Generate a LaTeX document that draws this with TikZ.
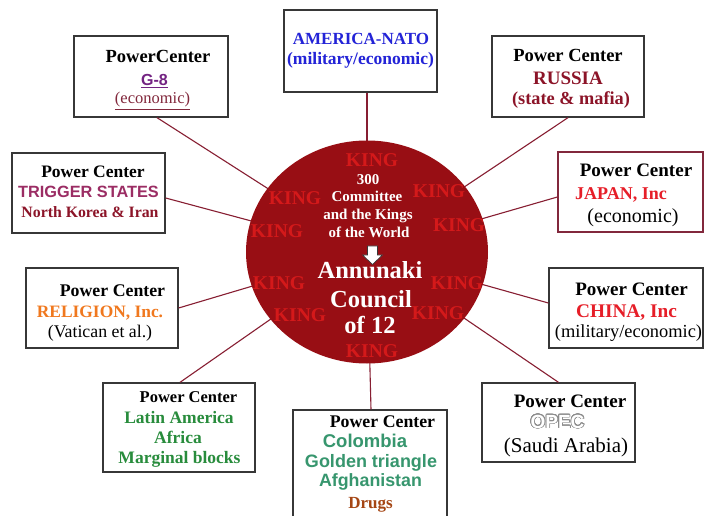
\documentclass[tikz,border=0pt]{standalone}
\usepackage{fontspec}
\setmainfont{Liberation Serif}
\newfontfamily\arialf{Liberation Sans}
\usepackage{contour}
\contourlength{0.7pt}
\contournumber{24}
\usetikzlibrary{shapes.geometric,calc}
\definecolor{boxgray}{RGB}{55,55,55}
\definecolor{linemaroon}{RGB}{135,30,50}
\definecolor{circred}{RGB}{152,14,20}
\definecolor{kingred}{RGB}{228,28,28}
\definecolor{gpurple}{RGB}{115,35,130}
\definecolor{ecomaroon}{RGB}{130,40,60}
\definecolor{natoblue}{RGB}{35,35,215}
\definecolor{russmaroon}{RGB}{140,20,40}
\definecolor{trigmauve}{RGB}{155,45,100}
\definecolor{jpred}{RGB}{230,30,40}
\definecolor{relorange}{RGB}{240,120,30}
\definecolor{latgreen}{RGB}{40,140,60}
\definecolor{drugteal}{RGB}{55,150,110}
\definecolor{drugbrown}{RGB}{165,70,20}
\definecolor{opecgray}{RGB}{140,140,140}
\newcommand{\fsz}[1]{\fontsize{#1}{#1}\selectfont}
\tikzset{
  pcbox/.style={draw=boxgray, line width=1.3pt, fill=white, inner sep=0pt},
  conn/.style={draw=linemaroon, line width=1.1pt},
  tl/.style={anchor=base, inner sep=0pt},
  king/.style={anchor=base, inner sep=0pt, text=kingred, text opacity=0.8, font=\fsz{19.5}\bfseries},
  ctext/.style={anchor=base, inner sep=0pt, text=white, font=\fsz{15}\bfseries},
  btext/.style={anchor=base, inner sep=0pt, text=white, font=\fsz{24.5}\bfseries},
  pc/.style={anchor=base, inner sep=0pt, font=\fsz{18.5}\bfseries},
}
\begin{document}
\begin{tikzpicture}[x=1pt,y=-1pt]
\clip (0,0) rectangle (705,516);
\fill[white] (0,0) rectangle (705,516);
\coordinate (ctr) at (367,252);
% boxes (nodes)
\node[pcbox, minimum width=154, minimum height=81] (g8) at (151,76.5) {};
\node[pcbox, minimum width=153, minimum height=82] (nato) at (360.5,51) {};
\node[pcbox, minimum width=152, minimum height=81] (russia) at (568,76.5) {};
\node[pcbox, minimum width=153, minimum height=80] (trig) at (88.5,193) {};
\node[pcbox, draw=ecomaroon, minimum width=145, minimum height=80] (japan) at (630.5,192) {};
\node[pcbox, minimum width=152, minimum height=80] (relig) at (102,308) {};
\node[pcbox, minimum width=154, minimum height=80] (china) at (626,308) {};
\node[pcbox, minimum width=152, minimum height=89] (latin) at (179,427.5) {};
\node[pcbox, minimum width=154, minimum height=115] (drugs) at (370,467.5) {};
\node[pcbox, minimum width=153, minimum height=79] (opec) at (558.5,422.5) {};
% connectors
\draw[conn] ($(g8.south)+(6,0)$) -- (ctr);
\draw[conn] ($(nato.south)+(6.5,0)$) -- (ctr);
\draw[conn] (russia.south) -- (ctr);
\draw[conn] ($(trig.east)+(0,5)$) -- (ctr);
\draw[conn] ($(japan.west)+(0,5)$) -- (ctr);
\draw[conn] (relig.east) -- (ctr);
\draw[conn] ($(china.west)+(0,-5)$) -- (ctr);
\draw[conn] ($(latin.north)+(1,0)$) -- (ctr);
\draw[conn] ($(drugs.north)+(1,0)$) -- (ctr);
\draw[conn] (opec.north) -- (ctr);
% circle
\node[ellipse, fill=circred, minimum width=242, minimum height=223, inner sep=0pt] (circ) at (ctr) {};
% kings
\node[king] (k1) at (372,166.5) {KING};
\node[king] (k2) at (295,204.5) {KING};
\node[king] (k3) at (439,198) {KING};
\node[king] (k4) at (277,237) {KING};
\node[king] (k5) at (459,232) {KING};
\node[king] (k6) at (279,290) {KING};
\node[king] (k7) at (457,290) {KING};
\node[king] (k8) at (300,321) {KING};
\node[king] (k9) at (438,319) {KING};
\node[king] (k10) at (372,357) {KING};
% circle text
\node[ctext] (c1) at (368,185) {300};
\node[ctext] (c2) at (367,202) {Committee};
\node[ctext] (c3) at (368,220) {and the Kings};
\node[ctext] (c4) at (369,237) {of the World};
\draw[fill=white, draw=boxgray, line width=0.7pt] (367.5,246) -- (377.5,246) -- (377.5,255) -- (382.5,255) -- (372.5,264.5) -- (362.5,255) -- (367.5,255) -- cycle;
\node[btext] (c5) at (370,278) {Annunaki};
\node[btext] (c6) at (371,307) {Council};
\node[btext] (c7) at (370,333) {of 12};
% G-8
\node[pc] (g8a) at (158,63) {PowerCenter};
\node[tl, text=gpurple, font=\arialf\fsz{16}\bfseries] (g8b) at (154.5,86) {\underline{G-8}};
\node[tl, text=ecomaroon, font=\fsz{16.5}] (g8c) at (152.5,104) {\underline{(economic)}};
% NATO
\node[tl, text=natoblue, font=\fsz{17}\bfseries] (na) at (361,45) {AMERICA-NATO};
\node[tl, text=natoblue, font=\fsz{17.5}\bfseries] (nb) at (360.5,65) {(military/economic)};
% RUSSIA
\node[pc] (ra) at (568,62) {Power Center};
\node[tl, text=russmaroon, font=\fsz{19}\bfseries] (rb) at (568,85) {RUSSIA};
\node[tl, text=russmaroon, font=\fsz{18.3}\bfseries] (rc) at (571,105) {(state \& mafia)};
% TRIGGER
\node[pc, font=\fsz{17.5}\bfseries] (ta) at (93,178) {Power Center};
\node[tl, text=trigmauve, font=\arialf\fsz{16.3}\bfseries] (tb) at (88.5,198) {TRIGGER STATES};
\node[tl, text=russmaroon, font=\fsz{15.8}\bfseries] (tc) at (90,218) {North Korea \& Iran};
% JAPAN
\node[pc, font=\fsz{19}\bfseries] (ja) at (636,177) {Power Center};
\node[tl, anchor=base west, text=jpred, font=\fsz{18}\bfseries] (jb) at (575,200) {JAPAN, Inc};
\node[tl, font=\fsz{20}] (jc) at (633,223) {(economic)};
% RELIGION
\node[pc, font=\fsz{17.8}\bfseries] (rea) at (112.5,297) {Power Center};
\node[tl, text=relorange, font=\fsz{17.4}\bfseries] (reb) at (100,317) {RELIGION, Inc.};
\node[tl, font=\fsz{17.8}] (rec) at (100,337) {(Vatican et al.)};
% CHINA
\node[pc, font=\fsz{19}\bfseries] (cha) at (631.5,295) {Power Center};
\node[tl, text=jpred, font=\fsz{19.3}\bfseries] (chb) at (626.5,317) {CHINA, Inc};
\node[tl, font=\fsz{18.4}] (chc) at (628.5,337) {(military/economic)};
% LATIN
\node[pc, font=\fsz{16.5}\bfseries] (la) at (188.5,402) {Power Center};
\node[tl, text=latgreen, font=\fsz{17.5}\bfseries] (lb) at (179,423) {Latin America};
\node[tl, text=latgreen, font=\fsz{17.5}\bfseries] (lc) at (178,443) {Africa};
\node[tl, text=latgreen, font=\fsz{17.5}\bfseries] (ld) at (179.5,463) {Marginal blocks};
% DRUGS
\node[pc, font=\fsz{17.8}\bfseries] (da) at (382.5,427) {Power Center};
\node[tl, text=drugteal, font=\arialf\fsz{18.5}\bfseries] (db) at (365,447) {Colombia};
\node[tl, text=drugteal, font=\arialf\fsz{18}\bfseries] (dc) at (371,467) {Golden triangle};
\node[tl, text=drugteal, font=\arialf\fsz{17.8}\bfseries] (dd) at (370.5,486) {Afghanistan};
\node[tl, text=drugbrown, font=\fsz{17}\bfseries] (de) at (370.5,508) {Drugs};
% OPEC
\node[pc, font=\fsz{19}\bfseries] (oa) at (570,407) {Power Center};
\node[tl, font=\arialf\fsz{19}\bfseries] (ob) at (557.5,428) {\contour{opecgray}{\textcolor{white}{OPEC}}};
\node[tl, font=\fsz{21}] (oc) at (566,452) {(Saudi Arabia)};
\end{tikzpicture}
\end{document}
